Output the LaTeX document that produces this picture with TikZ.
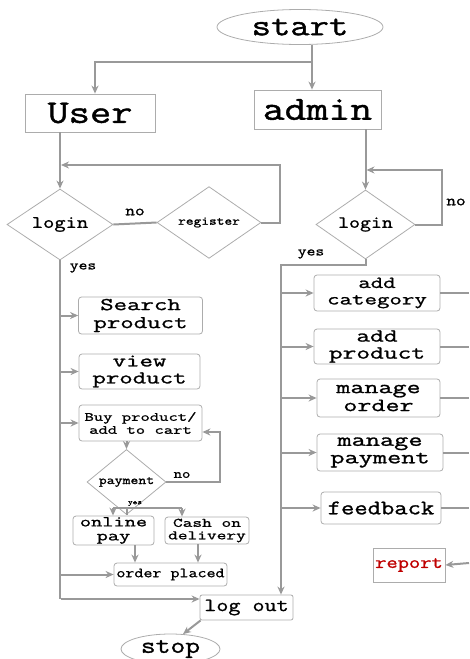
\documentclass[tikz,border=0pt]{standalone}
\usepackage{fontspec}
\setmonofont[FakeBold=1.2, FakeStretch=1.25]{Latin Modern Mono}
\newfontfamily\widemono[FakeBold=1.2, FakeStretch=1.45]{Latin Modern Mono}
\usetikzlibrary{shapes.geometric, arrows.meta}
\newcommand{\tsize}[2]{\fontsize{#1}{#2}\selectfont}

\begin{document}
\begin{tikzpicture}[x=1pt, y=-1pt,
    endpoint/.style={ellipse, draw=gray!65, line width=0.8pt, inner sep=0pt},
    rolebox/.style={rectangle, draw=gray!65, line width=0.8pt, inner sep=0pt},
    stepbox/.style={rolebox, rounded corners=3pt, align=center},
    askbox/.style={diamond, draw=gray!65, line width=0.8pt, inner sep=0pt},
    flow/.style={draw=gray!80, line width=2pt},
    flowarr/.style={flow, -{Stealth[length=8pt, width=7pt]}},
    note/.style={inner sep=0pt},
    fs/.style 2 args={font=\ttfamily\tsize{#1}{#2}},
    wfs/.style 2 args={font=\widemono\tsize{#1}{#2}}]
        \useasboundingbox (0,0) rectangle (469,659);

        % start and the two roles
        \node[endpoint, minimum width=166, minimum height=35, fs={30}{30}] (start) at (300,27) {start};
        \node[rolebox, minimum width=130, minimum height=38, fs={33}{33}] (user) at (90,113) {User};
        \node[rolebox, minimum width=127, minimum height=39, fs={34}{34}] (admin) at (317.5,109.5) {admin};
        \coordinate (split) at (312,62);
        \coordinate (ujoin) at (95,62);

        % user side
        \node[askbox, minimum width=106, minimum height=55, fs={17.5}{17.5}] (ulogin) at (60,224.5) {login};
        \node[askbox, minimum width=104, minimum height=59, fs={12}{12}] (register) at (209,222.5) {register};
        \node[stepbox, minimum width=124, minimum height=37, wfs={18}{18}] (search) at (140.5,315.5) {Search\\product};
        \node[stepbox, minimum width=121, minimum height=35, wfs={18}{17}] (view) at (139.5,371.5) {view\\product};
        \node[stepbox, minimum width=123, minimum height=36, wfs={12.5}{13}] (buy) at (140.5,423) {Buy product/\\add to cart};
        \node[askbox, minimum width=79, minimum height=34, fs={12.3}{12.3}] (payment) at (126.5,482) {payment};
        \node[stepbox, minimum width=81, minimum height=29, wfs={15}{14}] (online) at (113.5,530.5) {online\\pay};
        \node[stepbox, minimum width=84, minimum height=27, wfs={13}{12.5}] (cash) at (207,530.5) {Cash on\\delivery};
        \node[stepbox, minimum width=113, minimum height=23, fs={14}{14}] (placed) at (170.5,574.5) {order placed};
        \node[rolebox, rounded corners=2pt, minimum width=93, minimum height=25, fs={18.7}{18.7}] (logout) at (246.5,607.5) {log out};
        \node[endpoint, minimum width=99, minimum height=30, fs={23}{23}] (stop) at (170.5,649) {stop};
        \coordinate (rtop) at (280,165);
        \coordinate (uend) at (61,599);
        \coordinate (ploop) at (220,432);
        \coordinate (pl) at (113,508);
        \coordinate (pr) at (182,508);

        % admin side
        \node[askbox, minimum width=99, minimum height=53, fs={17}{17}] (alogin) at (365.5,224.5) {login};
        \node[stepbox, minimum width=126, minimum height=36, wfs={16.7}{16.5}] (category) at (377,293) {add\\category};
        \node[stepbox, minimum width=126, minimum height=35, wfs={18.4}{17}] (aproduct) at (377,346.5) {add\\product};
        \node[stepbox, minimum width=123, minimum height=38, wfs={18.8}{18}] (morder) at (378.5,398) {manage\\order};
        \node[stepbox, minimum width=126, minimum height=37, wfs={19}{17.5}] (mpay) at (380,452.5) {manage\\payment};
        \node[stepbox, minimum width=120, minimum height=32, fs={20.7}{20.7}] (feedback) at (381,508) {feedback};
        \node[rolebox, minimum width=72, minimum height=34, fs={17.5}{17.5}, text=red!75!black] (report) at (409,565) {report};
        \coordinate (atop) at (442,170);
        \coordinate (ajoin) at (281,265);
        \coordinate (rim) at (469,563);

        % labels
        \node[note, fs={15}{15}] at (135,212) {no};
        \node[note, fs={13.7}{13.7}] at (83,268) {yes};
        \node[note, fs={13}{13}] at (182,475) {no};
        \node[note, fs={7}{7}] at (135,503.5) {yes};
        \node[note, fs={15}{15}] at (456,202) {no};
        \node[note, fs={13.7}{13.7}] at (311,254) {yes};

        % connectors
        \draw[flowarr] (start.south -| split) -- (admin.north -| split);
        \draw[flowarr] (split) -- (ujoin) -- (ujoin |- user.north);
        \draw[flowarr] (user.south -| ulogin) -- (ulogin.north);
        \draw[flow] (ulogin.east) -- (register.west);
        \draw[flowarr, shorten >=1pt] (register.east) -- (register.east -| rtop) -- (rtop) -- (rtop -| ulogin);
        \draw[flow] (ulogin.south) -- (ulogin.south |- uend);
        \draw[flowarr] (search.west -| ulogin) -- (search.west);
        \draw[flowarr] (view.west -| ulogin) -- (view.west);
        \draw[flowarr] (buy.west -| ulogin) -- (buy.west);
        \draw[flowarr] (placed.west -| ulogin) -- (placed.west);
        \draw[flowarr] (uend) -- (uend -| logout.west);
        \draw[flowarr] (buy.south -| payment) -- (payment.north);
        \draw[flowarr] (payment.east) -- (payment.east -| ploop) -- (ploop) -- (ploop -| buy.east);
        \draw[flow] (payment.south) -- (payment.south |- pl);
        \draw[flow] (pl) -- (pr);
        \draw[flowarr] (pl) -- (pl |- online.north);
        \draw[flowarr] (pr) -- (pr |- cash.north);
        \draw[flowarr] ([xshift=21.5pt]online.south) -- ([xshift=21.5pt]online.south |- placed.north);
        \draw[flowarr] ([xshift=-9pt]cash.south) -- ([xshift=-9pt]cash.south |- placed.north);
        \draw[flowarr] ([xshift=1pt]logout.south west) -- (stop.50);

        \draw[flowarr] (admin.south -| alogin) -- (alogin.north);
        \draw[flowarr, shorten >=1pt] (alogin.east) -- (alogin.east -| atop) -- (atop) -- (atop -| alogin);
        \draw[flowarr] (alogin.south) -- (alogin.south |- ajoin) -- (ajoin) -- (ajoin |- logout.north);
        \draw[flowarr] (category.west -| ajoin) -- (category.west);
        \draw[flowarr] (aproduct.west -| ajoin) -- (aproduct.west);
        \draw[flowarr] (morder.west -| ajoin) -- (morder.west);
        \draw[flowarr] (mpay.west -| ajoin) -- (mpay.west);
        \draw[flowarr] (feedback.west -| ajoin) -- (feedback.west);
        \draw[flow] (category.east) -- (category.east -| rim)
            (aproduct.east) -- (aproduct.east -| rim)
            (morder.east) -- (morder.east -| rim)
            (mpay.east) -- (mpay.east -| rim)
            (feedback.east) -- (feedback.east -| rim);
        \draw[flowarr] (rim) -- (report.east);
    \end{tikzpicture}
\end{document}
